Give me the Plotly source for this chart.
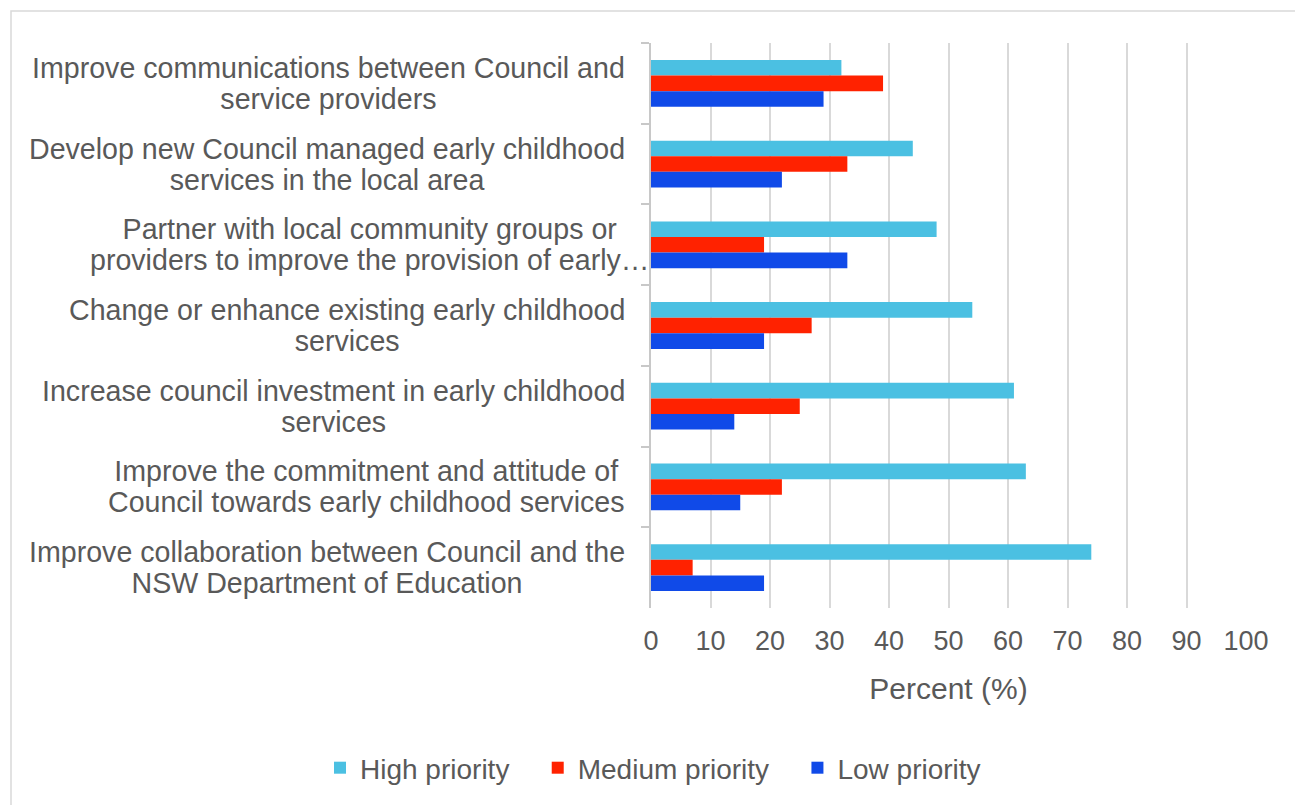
import plotly.graph_objects as go

# Survey: priority given to each Council action on early childhood services
categories = [
    "Improve communications between Council and<br>service providers",
    "Develop new Council managed early childhood<br>services in the local area",
    "Partner with local community groups or<br>providers to improve the provision of early…",
    "Change or enhance existing early childhood<br>services",
    "Increase council investment in early childhood<br>services",
    "Improve the commitment and attitude of<br>Council towards early childhood services",
    "Improve collaboration between Council and the<br>NSW Department of Education",
]
high_priority = [32, 44, 48, 54, 61, 63, 74]
medium_priority = [39, 33, 19, 27, 25, 22, 7]
low_priority = [29, 22, 33, 19, 14, 15, 19]
x_ticks = list(range(0, 101, 10))

series_names = ["High priority", "Medium priority", "Low priority"]
series_colors = ["#4BC0E2", "#FF2200", "#104AE8"]
series_values = [high_priority, medium_priority, low_priority]

W, H = 1295, 805
ML, MR, MT, MB = 651, 49, 43, 197
PW, PH = W - ML - MR, H - MT - MB

FONT = "Liberation Sans, Arial, sans-serif"
TEXT = "#595959"
GRID = "#d9d9d9"

fig = go.Figure()
for name, color, vals in zip(series_names, series_colors, series_values):
    # non-breaking spaces widen the gap between legend entries
    pad = "\u00a0\u00a0\u00a0" if name != series_names[-1] else ""
    fig.add_trace(go.Bar(
        y=categories, x=vals, name=name + pad,
        orientation="h", marker=dict(color=color, line=dict(width=0)),
    ))

# Category labels: two centred lines, block right-aligned next to the axis
annotations = []
for cat in categories:
    right_px = 651 if cat.endswith("…") else 627
    annotations.append(dict(
        xref="paper", yref="y", x=0, y=cat, text=cat,
        xanchor="right", yanchor="middle", align="center",
        xshift=right_px - ML, yshift=-3, showarrow=False,
        font=dict(family=FONT, size=28.6, color=TEXT),
    ))

def px_x(p):
    return (p - ML) / PW

def px_y(p):
    return (H - MB - p) / PH

fig.update_layout(
    width=W, height=H,
    margin=dict(l=ML, r=MR, t=MT, b=MB, autoexpand=False),
    paper_bgcolor="white", plot_bgcolor="white",
    font=dict(family=FONT, color=TEXT),
    barmode="group", bargap=0.42, bargroupgap=0,
    annotations=annotations,
    shapes=[dict(
        type="rect", xref="paper", yref="paper",
        x0=px_x(11), x1=px_x(1310), y0=px_y(820), y1=px_y(11),
        line=dict(color=GRID, width=1.5), fillcolor="rgba(0,0,0,0)", layer="below",
    )],
    legend=dict(
        orientation="h", xanchor="left", yanchor="middle",
        x=px_x(320), y=px_y(768),
        font=dict(family=FONT, size=28, color=TEXT),
        traceorder="normal", itemclick=False,
    ),
    xaxis=dict(
        range=[0, 100], tickvals=x_ticks, ticktext=[str(v) for v in x_ticks],
        showgrid=True, gridcolor=GRID, gridwidth=1.5,
        zeroline=False, showline=False, ticks="", ticklabelstandoff=14,
        tickfont=dict(family=FONT, size=27, color=TEXT),
        title=dict(text="Percent (%)", font=dict(family=FONT, size=30, color=TEXT), standoff=22),
    ),
    yaxis=dict(
        categoryorder="array", categoryarray=categories, autorange="reversed",
        showticklabels=False, showgrid=False, zeroline=False,
        showline=True, linecolor="#c8c8c8", linewidth=1.5,
        ticks="outside", tickson="boundaries", ticklen=8, tickcolor="#c8c8c8", tickwidth=1.5,
    ),
)

# Tighter line spacing for the wrapped category labels
tighten_lines = """
var gd = document.getElementById('{plot_id}');
gd.querySelectorAll('g.annotation text.annotation-text tspan.line').forEach(function (t) {
    var dy = parseFloat(t.getAttribute('dy'));
    if (dy > 0) { t.setAttribute('dy', (dy * 1.1 / 1.3) + 'em'); }
});
"""

fig.write_html("out.html", post_script=tighten_lines)
